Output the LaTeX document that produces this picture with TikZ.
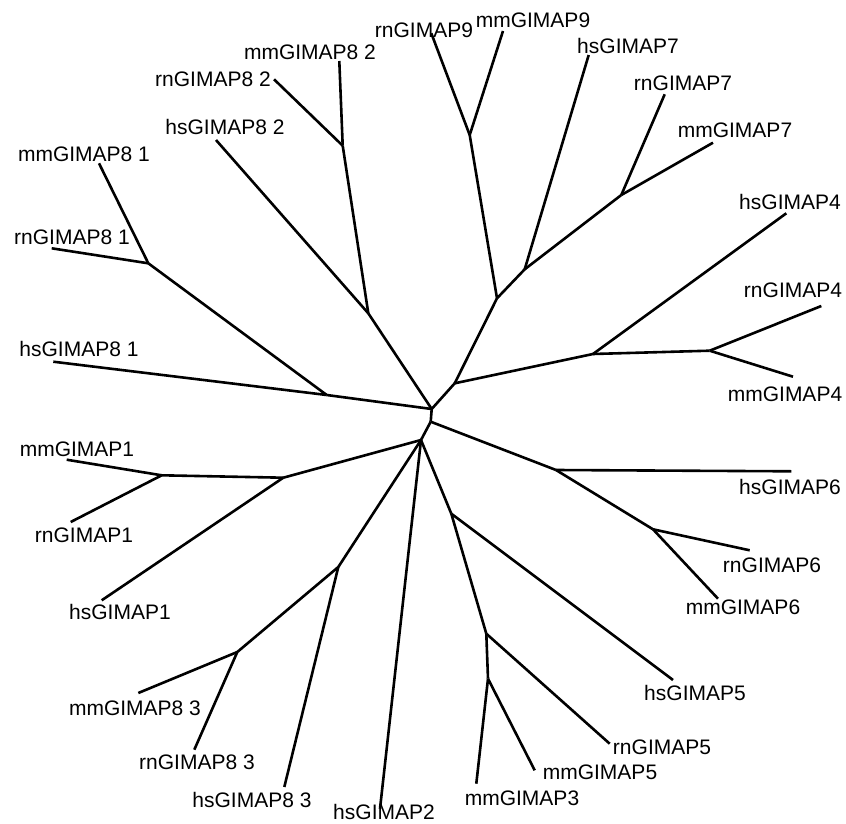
\documentclass[tikz,border=0pt]{standalone}
\usepackage{fontspec}
\setmainfont{Liberation Sans}

\begin{document}
\begin{tikzpicture}[
  x=1pt, y=-1pt,
  branch/.style={line width=2.6pt, line join=round},
  taxon/.style={font=\fontsize{21}{25}\selectfont, inner sep=0pt},
]
\useasboundingbox (0,0) rectangle (846,824);

% ---- inner vertices ----
\coordinate (a) at (431.7,409);
\coordinate (b) at (430.7,421.7);
\coordinate (c) at (421,440);
\coordinate (m) at (326.7,395);
\coordinate (n) at (148.3,263.3);
\coordinate (o) at (368.3,313.3);
\coordinate (p) at (342.7,145.7);
\coordinate (q) at (454.7,383.3);
\coordinate (r) at (593,354);
\coordinate (s) at (709.7,350.7);
\coordinate (t) at (497,298.3);
\coordinate (u) at (469.7,135);
\coordinate (v) at (524.7,269.3);
\coordinate (w) at (621.3,195);
\coordinate (g) at (556,470);
\coordinate (h) at (653,529.3);
\coordinate (d) at (451.3,513.7);
\coordinate (e) at (486.3,633.7);
\coordinate (f) at (488,678.7);
\coordinate (i) at (283.3,477.7);
\coordinate (j) at (161.7,475.3);
\coordinate (k) at (338.3,567);
\coordinate (l) at (237.3,652);

% ---- leaf tips ----
\coordinate (mm81) at (99,163.3);
\coordinate (rn81) at (51.7,248.3);
\coordinate (hs81) at (53.3,361.7);
\coordinate (hs82) at (216,140);
\coordinate (rn82) at (274,79.3);
\coordinate (mm82) at (339.3,61);
\coordinate (rn9)  at (431.3,33.3);
\coordinate (mm9)  at (503,31);
\coordinate (hs7)  at (588.7,55);
\coordinate (rn7)  at (664.7,94.3);
\coordinate (mm7)  at (713,142.7);
\coordinate (hs4)  at (786.3,213.3);
\coordinate (rn4)  at (821.3,306);
\coordinate (mm4)  at (793,376.7);
\coordinate (hs6)  at (791.3,471.3);
\coordinate (rn6)  at (749.7,550.3);
\coordinate (mm6)  at (718,598.7);
\coordinate (hs5)  at (673,680);
\coordinate (rn5)  at (609.7,743.7);
\coordinate (mm5)  at (534.7,770.3);
\coordinate (mm3)  at (476.3,783.7);
\coordinate (hs2)  at (380,808.7);
\coordinate (hs83) at (284.3,787);
\coordinate (rn83) at (194.3,749.7);
\coordinate (mm83) at (138.3,693);
\coordinate (hs1)  at (101.7,600.3);
\coordinate (rn1)  at (70.7,522);
\coordinate (mm1)  at (66.7,459.7);

% ---- branches ----
\foreach \x/\y in {a/b, b/c, a/m, m/hs81, m/n, n/rn81, n/mm81,
                   a/o, o/hs82, o/p, p/rn82, p/mm82,
                   a/q, q/r, r/hs4, r/s, s/rn4, s/mm4,
                   q/t, t/u, u/rn9, u/mm9, t/v, v/hs7, v/w, w/rn7, w/mm7}
  \draw[branch] (\x) -- (\y);
\foreach \x/\y in {b/g, g/hs6, g/h, h/rn6, h/mm6,
                   c/d, d/hs5, d/e, e/rn5, e/f, f/mm5, f/mm3,
                   c/hs2, c/k, k/hs83, k/l, l/rn83, l/mm83,
                   c/i, i/hs1, i/j, j/rn1, j/mm1}
  \draw[branch] (\x) -- (\y);

% ---- taxon labels ----
\node[taxon] (lmm81) at (84,154)  {mmGIMAP8 1};
\node[taxon] (lrn81) at (72,237)  {rnGIMAP8 1};
\node[taxon] (lhs81) at (79,349)  {hsGIMAP8 1};
\node[taxon] (lhs82) at (225,127) {hsGIMAP8 2};
\node[taxon] (lrn82) at (213,79)  {rnGIMAP8 2};
\node[taxon] (lmm82) at (310,52)  {mmGIMAP8 2};
\node[taxon] (lrn9)  at (424,30)  {rnGIMAP9};
\node[taxon] (lmm9)  at (533,20)  {mmGIMAP9};
\node[taxon] (lhs7)  at (628,46)  {hsGIMAP7};
\node[taxon] (lrn7)  at (683,83)  {rnGIMAP7};
\node[taxon] (lmm7)  at (735,130) {mmGIMAP7};
\node[taxon] (lhs4)  at (790,202) {hsGIMAP4};
\node[taxon] (lrn4)  at (793,290) {rnGIMAP4};
\node[taxon] (lmm4)  at (785,394) {mmGIMAP4};
\node[taxon] (lhs6)  at (790,487) {hsGIMAP6};
\node[taxon] (lrn6)  at (772,565) {rnGIMAP6};
\node[taxon] (lmm6)  at (743,607) {mmGIMAP6};
\node[taxon] (lhs5)  at (695,693) {hsGIMAP5};
\node[taxon] (lrn5)  at (662,747) {rnGIMAP5};
\node[taxon] (lmm5)  at (600,772) {mmGIMAP5};
\node[taxon] (lmm3)  at (522,798) {mmGIMAP3};
\node[taxon] (lhs2)  at (384,812) {hsGIMAP2};
\node[taxon] (lhs83) at (252,800) {hsGIMAP8 3};
\node[taxon] (lrn83) at (197,762) {rnGIMAP8 3};
\node[taxon] (lmm83) at (135,708) {mmGIMAP8 3};
\node[taxon] (lhs1)  at (120,612) {hsGIMAP1};
\node[taxon] (lrn1)  at (84,535)  {rnGIMAP1};
\node[taxon] (lmm1)  at (77,449)  {mmGIMAP1};
\end{tikzpicture}
\end{document}
